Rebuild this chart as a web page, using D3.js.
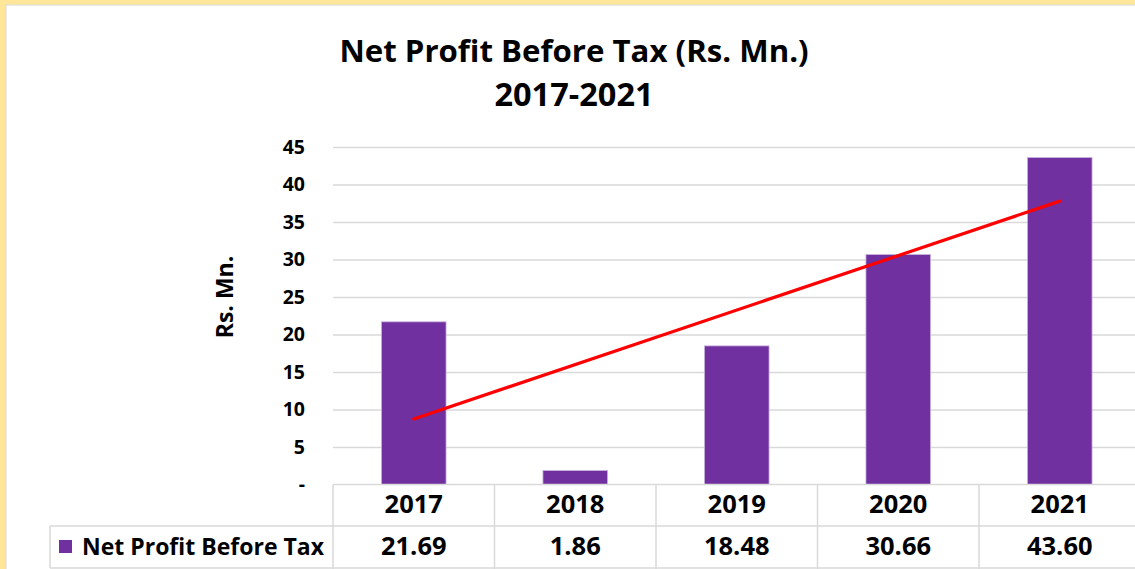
<!DOCTYPE html>
<html>
<head>
<meta charset="utf-8">
<script src="https://cdn.jsdelivr.net/npm/d3@7"></script>
<style>
  body { margin: 0; background: #fff; }
  svg { display: block; font-family: "Open Sans", Lato, sans-serif; font-weight: bold; }
</style>
</head>
<body>
<svg width="1135" height="569"></svg>
<script>
// data
const years = ["2017", "2018", "2019", "2020", "2021"];
const profit = [21.69, 1.86, 18.48, 30.66, 43.60];
const yTicks = [0, 5, 10, 15, 20, 25, 30, 35, 40, 45];
const seriesName = "Net Profit Before Tax";
const titleLines = ["Net Profit Before Tax (Rs. Mn.)", "2017-2021"];
const yTitle = "Rs. Mn.";

var font = "\"Open Sans\", Lato, sans-serif";
var svg = d3.select("svg");

//外框
svg.append("rect").attr("width", 1135).attr("height", 569).attr("fill", "#ffe699");
svg.append("rect").attr("x", 6).attr("y", 5).attr("width", 1140).attr("height", 580)
  .attr("fill", "#fff").attr("stroke", "#d9d9d9").attr("stroke-width", 1);

var x = d3.scaleBand().domain(years).range([333, 1140.5]);
var y = d3.scaleLinear().domain([0, 45]).range([484.5, 147]);

//标题
svg.selectAll(".title")
  .data(titleLines)
  .enter()
  .append("text")
  .attr("x", 574)
  .attr("y", (d, i) => 62 + i * 44)
  .attr("text-anchor", "middle")
  .attr("font-size", (d, i) => i === 0 ? 31.2 : 32.5)
  .attr("fill", "#000")
  .text(d => d);

//网格线和y轴
var yAxis = d3.axisLeft(y)
  .tickValues(yTicks)
  .tickSizeInner(-(1140.5 - 333))
  .tickSizeOuter(0)
  .tickPadding(28)
  .tickFormat(d => d === 0 ? "-" : d);

var gy = svg.append("g").attr("transform", "translate(333,0)").call(yAxis);
gy.select(".domain").remove();
gy.selectAll(".tick line").attr("stroke", "#d9d9d9").attr("stroke-width", 1.5)
  .filter(d => d === 0).remove();
gy.selectAll(".tick text")
  .attr("font-size", 19.5)
  .attr("font-family", font)
  .attr("font-weight", "bold")
  .attr("fill", "#000");

svg.append("text")
  .attr("transform", "translate(233,297) rotate(-90)")
  .attr("text-anchor", "middle")
  .attr("font-size", 23)
  .text(yTitle);

//柱子
var bw = x.bandwidth() * 0.4;
svg.selectAll(".bar")
  .data(profit)
  .enter()
  .append("rect")
  .attr("x", (d, i) => x(years[i]) + x.bandwidth() / 2 - bw / 2)
  .attr("y", d => y(d))
  .attr("width", bw)
  .attr("height", d => y(0) - y(d))
  .attr("fill", "#7030a0")
  .attr("stroke", "#c7b3dd")
  .attr("stroke-width", 0.8);

//线性趋势线
var n = profit.length;
var mx = d3.mean(d3.range(1, n + 1));
var my = d3.mean(profit);
var slope = d3.sum(profit, (d, i) => (i + 1 - mx) * (d - my)) / d3.sum(d3.range(1, n + 1), k => (k - mx) * (k - mx));
var icpt = my - slope * mx;
var trend = [1, n].map(k => ({ year: years[k - 1], v: icpt + slope * k }));

svg.append("path")
  .datum(trend)
  .attr("d", d3.line().x(d => x(d.year) + x.bandwidth() / 2).y(d => y(d.v)))
  .attr("fill", "none")
  .attr("stroke", "#ff0000")
  .attr("stroke-width", 3.2)
  .attr("stroke-linecap", "round");

//数据表
var table = svg.append("g");
var lineColor = "#d9d9d9";
var xEdges = years.map(d => x(d)).concat([x.range()[1]]);
table.selectAll(".vline")
  .data(xEdges)
  .enter()
  .append("line")
  .attr("x1", d => d).attr("x2", d => d)
  .attr("y1", y(0)).attr("y2", 569)
  .attr("stroke", lineColor).attr("stroke-width", 1.5);
table.append("line").attr("x1", 333).attr("x2", 1141).attr("y1", y(0)).attr("y2", y(0))
  .attr("stroke", lineColor).attr("stroke-width", 1.5);
table.selectAll(".hline")
  .data([526, 568])
  .enter()
  .append("line")
  .attr("x1", 50).attr("x2", 1141)
  .attr("y1", d => d).attr("y2", d => d)
  .attr("stroke", lineColor).attr("stroke-width", 1.5);
table.append("line").attr("x1", 50).attr("x2", 50).attr("y1", 526).attr("y2", 568)
  .attr("stroke", lineColor).attr("stroke-width", 1.5);

table.selectAll(".year")
  .data(years)
  .enter()
  .append("text")
  .attr("x", d => x(d) + x.bandwidth() / 2)
  .attr("y", 513)
  .attr("text-anchor", "middle")
  .attr("font-size", 25.5)
  .text(d => d);

table.selectAll(".val")
  .data(profit)
  .enter()
  .append("text")
  .attr("x", (d, i) => x(years[i]) + x.bandwidth() / 2)
  .attr("y", 555)
  .attr("text-anchor", "middle")
  .attr("font-size", 25.5)
  .text(d => d3.format(".2f")(d));

//图例
table.append("rect").attr("x", 59).attr("y", 540).attr("width", 13).attr("height", 13).attr("fill", "#7030a0");
table.append("text").attr("x", 82).attr("y", 555).attr("font-size", 23).text(seriesName);
</script>
</body>
</html>
